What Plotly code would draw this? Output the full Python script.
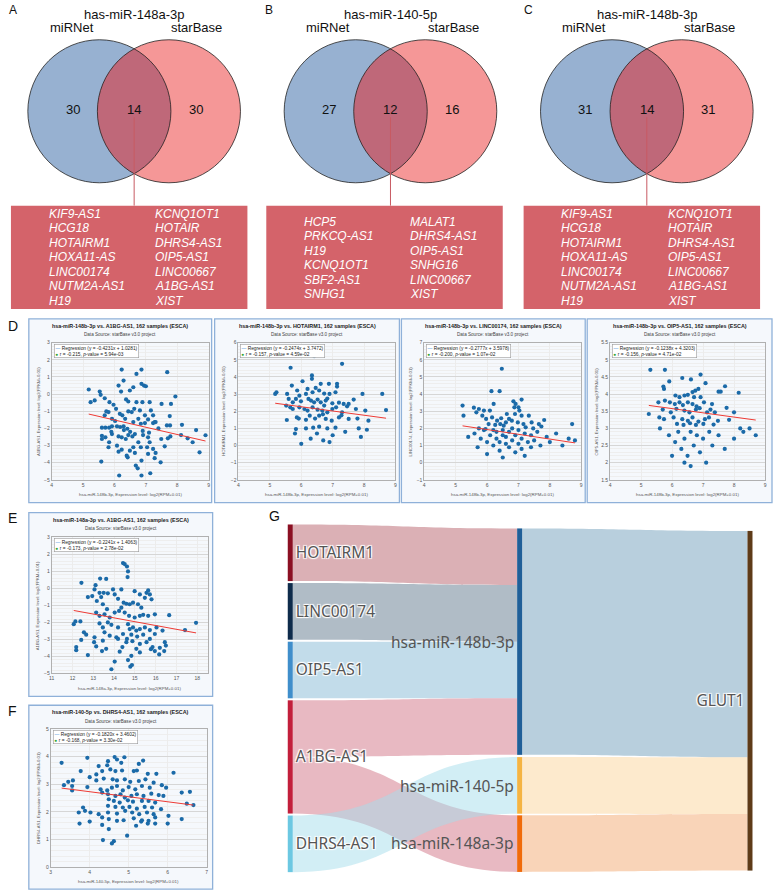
import plotly.graph_objects as go
import math

W, H = 774, 896
def X(px): return px / W
def Y(py): return 1 - py / H

FONT = "Liberation Sans, Arial, sans-serif"

# ---------------- Venn data ----------------
venn_titles = ["has-miR-148a-3p", "has-miR-140-5p", "has-miR-148b-3p"]
venn_letters = ["A", "B", "C"]
venn_left = [30, 27, 31]
venn_mid = [14, 12, 14]
venn_right = [30, 16, 31]
venn_set_left = "miRNet"
venn_set_right = "starBase"
genes_A_left = ["KIF9-AS1", "HCG18", "HOTAIRM1", "HOXA11-AS", "LINC00174", "NUTM2A-AS1", "H19"]
genes_A_right = ["KCNQ1OT1", "HOTAIR", "DHRS4-AS1", "OIP5-AS1", "LINC00667", "A1BG-AS1", "XIST"]
genes_B_left = ["HCP5", "PRKCQ-AS1", "H19", "KCNQ1OT1", "SBF2-AS1", "SNHG1"]
genes_B_right = ["MALAT1", "DHRS4-AS1", "OIP5-AS1", "SNHG16", "LINC00667", "XIST"]
genes_C_left = ["KIF9-AS1", "HCG18", "HOTAIRM1", "HOXA11-AS", "LINC00174", "NUTM2A-AS1", "H19"]
genes_C_right = ["KCNQ1OT1", "HOTAIR", "DHRS4-AS1", "OIP5-AS1", "LINC00667", "A1BG-AS1", "XIST"]

# ---------------- Scatter data ----------------
D1_x = [5.18,5.24,5.37,5.53,5.56,5.69,5.84,5.97,6.05,6.13,6.21,6.29,6.23,6.37,6.44,6.49,6.60,6.63,6.70,6.70,
        6.86,6.86,6.94,7.00,6.89,7.12,7.16,7.50,7.68,7.80,7.94,5.74,5.69,5.81,5.92,6.02,6.17,6.25,6.34,6.44,
        6.55,6.76,6.81,6.97,7.07,7.23,7.28,7.76,8.15,5.60,5.71,5.83,5.92,6.08,6.18,6.29,6.41,6.60,6.84,6.97,
        7.23,7.31,7.67,7.77,
        5.60,5.71,5.83,5.92,6.13,6.23,6.36,6.44,6.57,6.65,6.76,6.84,6.91,7.07,7.12,7.23,7.31,7.49,7.60,7.70,
        7.78,8.12,8.33,8.49,8.71,5.58,6.13,6.39,6.42,6.49,6.65,6.68,6.74,6.86,7.04,7.07,7.28,7.47,6.15,6.86,
        7.14,5.60,5.81,6.08,6.60,6.23,6.50,6.90,7.10,5.90,6.30,7.40,8.60,8.90]
D1_y = [0.27,-0.47,-0.37,0.15,-0.04,-0.24,-0.47,-0.62,-0.86,0.50,0.15,0.79,1.43,-0.31,-0.43,0.21,0.40,-0.86,-0.47,1.18,
        1.43,0.60,0.50,0.46,-0.47,-0.47,-0.95,-0.57,1.28,-0.57,-0.14,-1.01,-1.24,-1.05,-1.44,-1.57,-1.15,-1.24,-1.44,-1.01,
        -1.05,-1.44,-0.95,-1.24,-1.48,-1.24,-1.63,-1.28,-1.79,-1.96,-1.96,-1.96,-1.88,-1.88,-1.92,-1.88,-2.02,-1.63,-1.73,-1.69,
        -1.69,-1.63,-1.83,-1.83,
        -2.43,-2.52,-2.81,-2.33,-2.47,-2.52,-2.62,-2.39,-2.47,-2.33,-2.81,-3.10,-2.39,-2.52,-2.81,-3.20,-3.43,-2.62,-3.05,-2.58,
        -2.47,-2.39,-2.58,-2.81,-3.40,-3.94,-3.36,-3.59,-3.69,-3.30,-3.43,-4.17,-4.33,-3.88,-3.10,-3.49,-3.74,-3.98,-4.75,-4.75,
        -4.62,-2.62,-3.10,-3.01,-3.10,-3.24,-2.20,-2.15,-2.25,-2.20,-2.10,-2.00,-2.10,-2.40]

D2_x = [6.41,7.30,5.66,6.34,6.34,6.04,6.88,6.62,7.14,7.14,5.70,5.87,6.20,6.46,5.21,5.17,5.55,5.94,6.15,6.36,
        6.57,6.73,6.90,7.09,7.95,8.58,5.60,5.73,5.83,5.99,6.23,6.31,6.41,6.52,6.62,6.78,6.83,6.99,7.20,7.35,
        7.51,7.67,5.52,5.65,5.73,5.94,6.10,6.20,6.36,6.52,6.67,6.73,6.83,6.99,7.11,7.30,7.46,7.74,8.04,8.70,
        5.54,5.86,5.92,6.15,6.27,6.44,6.57,6.69,6.78,6.97,7.20,7.28,7.51,7.79,8.14,5.83,6.15,6.38,6.57,6.83,
        7.09,7.83,8.09,6.0,6.3,6.7,7.0,5.8,6.5,7.4,7.9,6.9]
D2_y = [5.22,4.77,4.54,4.09,3.89,3.75,3.60,3.60,3.60,3.44,3.50,3.21,3.30,3.36,3.11,3.01,3.01,2.91,3.01,3.11,
        3.21,3.03,3.01,3.11,3.01,3.01,2.72,2.52,2.72,2.58,2.72,2.62,2.52,2.68,2.52,2.62,2.74,2.46,2.50,2.43,
        2.43,2.68,2.33,2.23,2.13,2.23,2.13,2.04,2.23,2.09,2.04,2.33,1.94,2.13,2.23,1.94,2.29,2.13,2.04,2.07,
        1.49,1.64,1.57,1.50,1.74,1.57,1.74,1.82,1.55,1.45,1.64,1.76,1.55,1.57,1.45,0.96,1.00,1.04,1.10,1.00,
        1.04,1.00,0.92,0.1,0.4,0.3,0.6,0.7,0.7,0.8,0.5,0.2]

D3_x = [6.47,6.14,6.40,6.21,5.22,5.25,5.58,5.66,5.74,5.90,5.85,6.09,5.97,6.16,6.32,6.45,6.63,6.70,6.84,6.91,
        6.87,7.00,7.10,7.03,6.89,7.10,6.79,6.98,7.33,7.42,7.65,7.82,8.71,6.05,6.26,6.42,6.53,6.60,7.16,7.23,
        7.47,7.73,5.74,5.95,
        5.6,5.8,5.9,6.0,6.1,6.2,6.2,6.3,6.3,6.4,6.4,6.5,6.5,6.6,6.6,6.7,6.7,6.8,6.8,6.9,
        6.9,7.0,7.0,7.1,7.1,7.2,7.3,7.4,7.4,7.5,7.6,7.7,7.9,8.0,8.2,8.4,8.6,5.7,6.0,6.5,
        7.2,5.4,8.8]
D3_y = [5.48,4.17,4.17,3.43,3.33,2.74,3.21,2.94,3.13,3.04,2.74,3.04,2.55,2.64,2.45,2.59,2.84,2.55,3.58,3.43,
        3.23,3.23,3.68,3.04,2.84,2.74,2.45,2.35,2.74,2.35,2.25,2.49,2.25,2.25,2.20,2.25,2.16,2.35,2.25,2.06,
        2.00,2.11,2.00,1.96,
        1.7,1.4,1.9,1.2,1.6,1.9,1.0,1.4,1.8,0.7,1.2,1.6,1.9,1.1,1.5,0.9,1.8,1.3,2.0,0.6,
        1.6,1.1,1.9,1.4,0.8,1.7,1.2,1.6,0.9,1.3,1.8,1.0,1.5,1.2,1.7,1.0,1.4,0.9,0.5,0.3,
        0.4,1.5,1.3]

D4_x = [5.30,5.77,6.92,6.33,6.61,5.91,7.08,5.72,5.74,6.85,6.66,6.75,6.51,6.11,6.24,6.40,6.71,6.92,7.50,7.57,
        7.71,8.15,5.56,5.77,5.93,6.09,6.24,6.35,6.51,6.66,6.79,7.03,7.29,5.25,5.70,5.96,6.14,6.40,6.56,6.77,
        6.89,7.13,7.24,7.38,7.76,8.00,5.59,5.74,6.05,6.33,6.51,6.66,6.85,7.06,7.19,7.48,7.84,6.16,6.37,6.58,
        6.77,7.01,7.34,8.20,8.50,5.61,
        5.9,6.1,6.2,6.3,6.4,6.5,6.6,6.6,6.7,6.8,6.9,7.0,7.1,7.2,7.3,7.5,7.7,8.0,8.3,8.7,6.0,6.4]
D4_y = [4.71,4.71,4.57,4.47,4.43,4.37,4.32,4.22,4.15,4.15,4.06,4.10,3.98,3.96,3.91,3.96,3.91,3.91,4.07,4.07,
        4.23,4.04,3.76,3.81,3.76,3.71,3.76,3.68,3.76,3.71,3.64,3.76,3.71,3.42,3.55,3.47,3.57,3.52,3.47,3.55,
        3.59,3.47,3.55,3.47,3.60,3.47,3.32,3.27,3.32,3.27,3.22,3.32,3.20,3.27,3.32,3.22,3.25,3.13,3.10,3.15,
        3.10,3.13,3.11,3.00,3.00,3.00,
        2.8,2.6,2.9,2.4,2.7,2.2,2.9,1.9,2.5,2.8,2.3,2.7,2.0,2.9,2.5,2.8,2.4,2.7,2.9,2.8,2.2,2.0]

E_x = [14.43,14.51,14.62,14.67,14.65,14.35,12.43,13.33,13.62,13.11,13.06,13.30,13.50,13.70,12.74,12.95,13.17,13.38,13.95,14.03,
       14.19,14.46,14.59,14.75,14.91,14.99,15.24,15.56,15.64,15.72,15.48,15.80,15.15,15.31,13.46,13.66,13.14,13.30,13.54,13.79,
       14.03,14.24,14.35,14.51,14.72,14.99,15.24,15.40,15.64,15.96,16.65,12.06,12.14,12.38,13.30,13.46,13.70,13.87,14.19,14.67,
       14.91,15.07,14.75,15.24,15.48,15.72,16.04,16.33,17.41,17.94,12.55,12.66,13.06,13.54,13.79,14.11,14.43,14.62,14.83,15.11,
       15.40,15.72,15.96,12.42,13.04,13.46,14.19,14.59,14.88,15.24,15.56,16.44,16.49,12.18,13.14,13.62,14.40,15.07,15.85,16.20,
       12.18,12.74,13.42,14.03,13.87,14.67,14.83,14.78,14.86,15.24,15.96,16.17,16.41,14.27,15.77]
E_y = [1.49,1.43,1.29,1.00,0.67,-0.06,0.33,0.58,0.56,0.19,-0.06,-0.26,-0.26,-0.29,-0.51,-0.45,-0.74,-0.51,-0.06,-0.35,
       -0.61,-0.84,-0.90,-0.93,-0.84,-0.16,-0.35,-0.26,-0.12,-0.35,-0.55,-0.64,-0.93,-1.13,-0.93,-1.22,-1.42,-1.61,-1.52,-1.71,
       -1.42,-1.32,-1.13,-1.42,-1.61,-1.71,-1.61,-1.55,-1.61,-1.52,-1.57,-2.10,-1.94,-1.94,-2.06,-2.29,-2.00,-2.14,-2.29,-2.10,
       -2.29,-2.48,-2.39,-2.39,-2.29,-2.45,-2.29,-2.48,-2.45,-2.02,-2.58,-2.72,-2.87,-2.58,-2.78,-2.87,-2.68,-2.97,-2.72,-2.83,
       -2.72,-2.97,-2.68,-3.03,-3.16,-3.07,-2.97,-3.16,-3.10,-3.26,-3.16,-3.16,-3.36,-3.45,-3.41,-3.55,-3.45,-3.55,-3.45,-3.49,
       -3.63,-3.92,-3.68,-4.30,-4.75,-4.21,-3.96,-4.60,-4.50,-3.76,-3.68,-3.88,-3.68,-3.72,-3.57]

F_x = [3.28,3.94,4.64,4.89,4.70,4.81,5.26,5.37,4.47,4.45,4.23,3.77,4.00,4.17,4.32,4.53,4.66,4.83,5.13,5.21,
       5.49,5.71,6.15,3.45,3.57,4.17,4.36,4.59,4.70,4.90,5.04,5.26,5.43,5.64,3.34,3.55,3.94,4.28,4.45,4.57,
       4.70,4.85,5.00,5.17,5.34,5.54,5.85,5.96,3.55,4.32,4.47,4.66,4.79,4.90,5.07,5.21,5.38,5.58,5.77,6.36,
       6.57,6.66,6.49,5.89,4.49,4.62,4.77,4.98,5.11,5.34,5.51,5.68,4.47,4.66,4.85,5.02,5.21,5.41,5.60,5.83,
       3.83,3.88,4.02,3.72,4.23,4.47,4.70,4.91,5.09,5.27,5.47,5.64,4.32,4.49,4.70,4.87,5.13,5.34,5.51,5.68,
       6.02,6.36,3.74,4.00,4.32,4.49,5.19,5.32,5.49,5.68,6.00,4.34,4.57,4.62,4.96]
F_y = [3.78,3.96,3.99,3.98,3.90,3.78,3.74,3.86,3.84,3.69,3.66,3.48,3.26,3.36,3.48,3.54,3.48,3.50,3.48,3.50,
       3.38,3.38,3.42,3.09,3.14,3.14,3.21,3.18,3.14,3.18,3.09,3.12,3.18,3.06,2.97,2.94,2.90,2.82,2.78,2.88,
       2.94,2.78,2.90,2.82,2.94,2.88,2.97,2.88,2.78,2.70,2.64,2.58,2.64,2.52,2.58,2.64,2.58,2.66,2.61,2.70,
       2.73,2.25,2.30,2.58,2.46,2.40,2.34,2.42,2.37,2.40,2.40,2.34,2.22,2.18,2.16,2.18,2.12,2.18,2.16,2.10,
       2.16,2.04,1.98,1.98,1.92,1.98,1.94,2.04,1.98,1.92,1.98,1.92,1.80,1.74,1.68,1.70,1.77,1.70,1.68,1.80,
       1.86,1.74,1.58,1.65,1.53,1.38,1.50,1.65,1.58,1.58,1.58,0.98,0.86,0.94,1.14]

panel_titles = ["hsa-miR-148b-3p vs. A1BG-AS1, 162 samples (ESCA)",
                "hsa-miR-148b-3p vs. HOTAIRM1, 162 samples (ESCA)",
                "hsa-miR-148b-3p vs. LINC00174, 162 samples (ESCA)",
                "hsa-miR-148b-3p vs. OIP5-AS1, 162 samples (ESCA)",
                "hsa-miR-148a-3p vs. A1BG-AS1, 162 samples (ESCA)",
                "hsa-miR-140-5p vs. DHRS4-AS1, 162 samples (ESCA)"]
panel_mirna = ["hsa-miR-148b-3p", "hsa-miR-148b-3p", "hsa-miR-148b-3p", "hsa-miR-148b-3p",
               "hsa-miR-148a-3p", "hsa-miR-140-5p"]
panel_gene = ["A1BG-AS1", "HOTAIRM1", "LINC00174", "OIP5-AS1", "A1BG-AS1", "DHRS4-AS1"]
reg_slope = [-0.4231, -0.2474, -0.2777, -0.1238, -0.2241, -0.1820]
reg_intercept = [1.0281, 3.7472, 3.5978, 4.3203, 1.4063, 3.4602]
reg_r = ["-0.215", "-0.157", "-0.200", "-0.156", "-0.173", "-0.168"]
reg_p = ["5.94e-03", "4.59e-02", "1.07e-02", "4.71e-02", "2.78e-02", "3.30e-02"]
panel_xrange = [[4, 9], [4, 9], [4, 9], [4, 9], [11, 18.5], [3, 7]]
panel_yrange = [[-5, 3], [-2, 6], [-1, 7], [1.5, 5.5], [-5, 3], [0, 5]]
panel_ydtick = [1, 1, 1, 0.5, 1, 1]
panel_xs = [D1_x, D2_x, D3_x, D4_x, E_x, F_x]
panel_ys = [D1_y, D2_y, D3_y, D4_y, E_y, F_y]

# ---------------- Sankey data ----------------
sk_labels = ["HOTAIRM1", "LINC00174", "OIP5-AS1", "A1BG-AS1", "DHRS4-AS1",
             "hsa-miR-148b-3p", "hsa-miR-140-5p", "hsa-miR-148a-3p", "GLUT1"]
sk_source = [0, 1, 2, 3, 3, 4, 5, 6, 7]
sk_target = [5, 5, 5, 5, 7, 6, 8, 8, 8]
sk_value = [1, 1, 1, 1, 1, 1, 4, 1, 1]
sk_node_colors = ["#8b0f22", "#0e2b4b", "#3f8ecb", "#c21f3b", "#6cc8e2",
                  "#1f5f98", "#f5b443", "#f06a0a", "#5e3b18"]
sk_link_colors = ["rgba(183,97,107,0.5)", "rgba(97,121,141,0.5)", "rgba(133,185,213,0.5)",
                  "rgba(209,115,133,0.5)", "rgba(209,115,133,0.5)", "rgba(165,221,235,0.5)",
                  "rgba(113,159,187,0.5)", "rgba(251,209,145,0.45)", "rgba(241,159,97,0.45)"]
sk_middle = [5, 6, 7]

fig = go.Figure()
shapes = []
ann = []

# ---------------- Venn diagrams ----------------
venn_geo = [dict(cl=97, cr=167, box=8), dict(cl=355, cr=425, box=265), dict(cl=613, cr=683, box=524)]
letter_x = [4, 262, 522]
gene_sets = [(genes_A_left, genes_A_right), (genes_B_left, genes_B_right), (genes_C_left, genes_C_right)]
CY, R = 109, 72
BOX_T, BOX_B, BOX_W = 204, 308, 238

def poly_path(pts):
    s = "M %f,%f" % (X(pts[0][0]), Y(pts[0][1]))
    for p in pts[1:]:
        s += " L %f,%f" % (X(p[0]), Y(p[1]))
    return s + " Z"

for i in range(3):
    g = venn_geo[i]
    cl, cr = g["cl"], g["cr"]
    cm = (cl + cr) / 2
    shapes.append(dict(type="circle", xref="paper", yref="paper", x0=X(cl - R), x1=X(cl + R),
                       y0=Y(CY + R), y1=Y(CY - R), fillcolor="#97b1d1", line=dict(width=0)))
    shapes.append(dict(type="circle", xref="paper", yref="paper", x0=X(cr - R), x1=X(cr + R),
                       y0=Y(CY + R), y1=Y(CY - R), fillcolor="#f59797", line=dict(width=0)))
    d = (cr - cl) / 2
    th = math.acos(d / R)
    pts = []
    n = 40
    for k in range(n + 1):
        a = -th + 2 * th * k / n
        pts.append((cl + R * math.cos(a), CY + R * math.sin(a)))
    for k in range(n + 1):
        a = math.pi - th + 2 * th * k / n
        pts.append((cr + R * math.cos(a), CY - R * math.sin(a)))
    shapes.append(dict(type="path", xref="paper", yref="paper", path=poly_path(pts),
                       fillcolor="#bf6879", line=dict(width=0)))
    for c in (cl, cr):
        shapes.append(dict(type="circle", xref="paper", yref="paper", x0=X(c - R), x1=X(c + R),
                           y0=Y(CY + R), y1=Y(CY - R), line=dict(color="#222", width=0.8)))
    shapes.append(dict(type="line", xref="paper", yref="paper", x0=X(cm), x1=X(cm),
                       y0=Y(CY + 6), y1=Y(BOX_T), line=dict(color="#c85a62", width=1)))
    bl = g["box"]
    shapes.append(dict(type="rect", xref="paper", yref="paper", x0=X(bl), x1=X(bl + BOX_W),
                       y0=Y(BOX_B), y1=Y(BOX_T), fillcolor="#d4636a", line=dict(width=0)))
    ann.append(dict(x=X(cm), y=Y(12), text=venn_titles[i], font=dict(size=13, color="#111", family=FONT)))
    ann.append(dict(x=X(cl - 28), y=Y(25), text=venn_set_left, font=dict(size=13, color="#111", family=FONT)))
    ann.append(dict(x=X(cr + 28), y=Y(25), text=venn_set_right, font=dict(size=13, color="#111", family=FONT)))
    ann.append(dict(x=X(cl - 27), y=Y(107), text=str(venn_left[i]), font=dict(size=13, color="#111", family=FONT)))
    ann.append(dict(x=X(cm), y=Y(107), text=str(venn_mid[i]), font=dict(size=13, color="#111", family=FONT)))
    ann.append(dict(x=X(cr + 27), y=Y(107), text=str(venn_right[i]), font=dict(size=13, color="#111", family=FONT)))
    ann.append(dict(x=X(letter_x[i]), y=Y(7), text=venn_letters[i], xanchor="left",
                    font=dict(size=12, color="#111", family=FONT)))
    gl, gr = gene_sets[i]
    nrow = len(gl)
    y0 = 212 if nrow == 7 else 220
    for j in range(nrow):
        yy = y0 + j * 14.65
        ann.append(dict(x=X(bl + 36), y=Y(yy), text="<i>%s</i>" % gl[j], xanchor="left",
                        font=dict(size=12, color="white", family=FONT)))
        ann.append(dict(x=X(bl + 143), y=Y(yy), text="<i>%s</i>" % gr[j], xanchor="left",
                        font=dict(size=12, color="white", family=FONT)))

# ---------------- Scatter panels ----------------
frames = [(26, 318, 210, 503), (213, 318, 399, 503), (401, 318, 586, 503), (588, 318, 774, 503),
          (26, 513, 211, 698), (26, 707, 211, 892)]
plots = [(49, 342, 207, 480), (237, 342, 395, 480), (424, 342, 582, 480), (611, 342, 767, 480),
         (49, 538, 206, 675), (48, 731, 205, 870)]

layout_axes = {}
for i in range(6):
    k = i + 1
    fl, ft, fr, fb = frames[i]
    pl, pt, pr, pb = plots[i]
    xs, ys = panel_xs[i], panel_ys[i]
    n = min(len(xs), len(ys))
    xs, ys = xs[:n], ys[:n]
    shapes.append(dict(type="rect", xref="paper", yref="paper", x0=X(fl), x1=X(fr), y0=Y(fb), y1=Y(ft),
                       fillcolor="#f5f8fc", line=dict(color="#8fb1d9", width=1.3), layer="below"))
    xa = "x" if k == 1 else "x%d" % k
    ya = "y" if k == 1 else "y%d" % k
    fig.add_trace(go.Scatter(x=xs, y=ys, mode="markers", xaxis=xa, yaxis=ya, showlegend=False,
                             marker=dict(size=4.2, color="#1b6aa8")))
    x0, x1 = min(xs), max(xs)
    fig.add_trace(go.Scatter(x=[x0, x1],
                             y=[reg_slope[i] * x0 + reg_intercept[i], reg_slope[i] * x1 + reg_intercept[i]],
                             mode="lines", xaxis=xa, yaxis=ya, showlegend=False,
                             line=dict(color="#ee3b35", width=1)))
    yd = panel_ydtick[i]
    layout_axes["xaxis" if k == 1 else "xaxis%d" % k] = dict(
        domain=[X(pl), X(pr)], range=panel_xrange[i], anchor=ya, showgrid=True, gridcolor="#ececec",
        gridwidth=0.5, zeroline=False, showline=True, linecolor="#b0b0b0", linewidth=0.8, mirror=True,
        ticks="", dtick=1, tickfont=dict(size=5, color="#555", family=FONT), fixedrange=True)
    layout_axes["yaxis" if k == 1 else "yaxis%d" % k] = dict(
        domain=[Y(pb), Y(pt)], range=panel_yrange[i], anchor=xa, showgrid=True, gridcolor="#d6d6d6",
        gridwidth=0.6, minor=dict(showgrid=True, gridcolor="#eeeeee", gridwidth=0.5, dtick=yd / 5),
        zeroline=False, showline=True, linecolor="#b0b0b0", linewidth=0.8, mirror=True,
        ticks="", dtick=yd, tickfont=dict(size=5, color="#555", family=FONT), fixedrange=True)
    cx = (fl + fr) / 2
    ann.append(dict(x=X(cx), y=Y(ft + 7), text="<b>%s</b>" % panel_titles[i],
                    font=dict(size=5.4, color="#222", family=FONT)))
    ann.append(dict(x=X(cx), y=Y(ft + 16), text="Data Source: starBase v3.0 project",
                    font=dict(size=4.6, color="#444", family=FONT)))
    leg = ("<span style='color:#3d8fd8'>\u2014</span> Regression (y = %.4fx + %.4f)<br>"
           "<span style='color:#2ca02c'>\u25cf</span> r = %s, <i>p</i>-value = %s") % (
        reg_slope[i], reg_intercept[i], reg_r[i], reg_p[i])
    ann.append(dict(x=X(pl + 2), y=Y(pt + 1), text=leg, xanchor="left", yanchor="top", align="left",
                    bgcolor="white", bordercolor="#999", borderwidth=0.6, borderpad=1,
                    font=dict(size=4.8, color="#222", family=FONT)))
    ann.append(dict(x=X(fl + 9), y=Y((pt + pb) / 2), textangle=-90,
                    text="%s, Expression level: log2(FPKM+0.01)" % panel_gene[i],
                    font=dict(size=4.2, color="#555", family=FONT)))
    ann.append(dict(x=X((pl + pr) / 2), y=Y(fb - 8),
                    text="%s, Expression level: log2(RPM+0.01)" % panel_mirna[i],
                    font=dict(size=4.4, color="#555", family=FONT)))

for lt, ly in (("D", 325), ("E", 518), ("F", 713)):
    ann.append(dict(x=X(3), y=Y(ly), text=lt, xanchor="left", font=dict(size=14, color="#111", family=FONT)))
ann.append(dict(x=X(266), y=Y(516), text="G", xanchor="left", font=dict(size=14, color="#111", family=FONT)))

# ---------------- Sankey ----------------
SK_TOP, SK_BOT = 525, 875
node_labels = [("" if j in sk_middle else sk_labels[j]) for j in range(len(sk_labels))]
fig.add_trace(go.Sankey(
    domain=dict(x=[X(280), X(760)], y=[Y(SK_BOT), Y(SK_TOP)]),
    arrangement="fixed",
    node=dict(label=node_labels, color=sk_node_colors, thickness=5, pad=2, line=dict(width=0),
              x=[0.019, 0.019, 0.019, 0.019, 0.019, 0.5, 0.5, 0.5, 0.983],
              y=[0.0814, 0.25, 0.4186, 0.6686, 0.9186, 0.337, 0.7505, 0.918, 0.507]),
    link=dict(source=sk_source, target=sk_target, value=sk_value, color=sk_link_colors),
    textfont=dict(size=15.5, color="#555", family="Noto Sans"),
))
mid_label_y = [643, 788, 846]
for j, yy in zip(sk_middle, mid_label_y):
    ann.append(dict(x=X(516), y=Y(yy), text=sk_labels[j], xanchor="right",
                    font=dict(size=15.5, color="#555", family="Noto Sans")))

for a in ann:
    a.setdefault("xref", "paper")
    a.setdefault("yref", "paper")
    a.setdefault("showarrow", False)
    a.setdefault("xanchor", "center")
    a.setdefault("yanchor", "middle")

fig.update_layout(width=W, height=H, margin=dict(l=0, r=0, t=0, b=0),
                  paper_bgcolor="white", plot_bgcolor="white",
                  shapes=shapes, annotations=ann, showlegend=False, **layout_axes)
fig.write_html("out.html", config={"displayModeBar": False},
               post_script="document.body.style.margin='0px';")
